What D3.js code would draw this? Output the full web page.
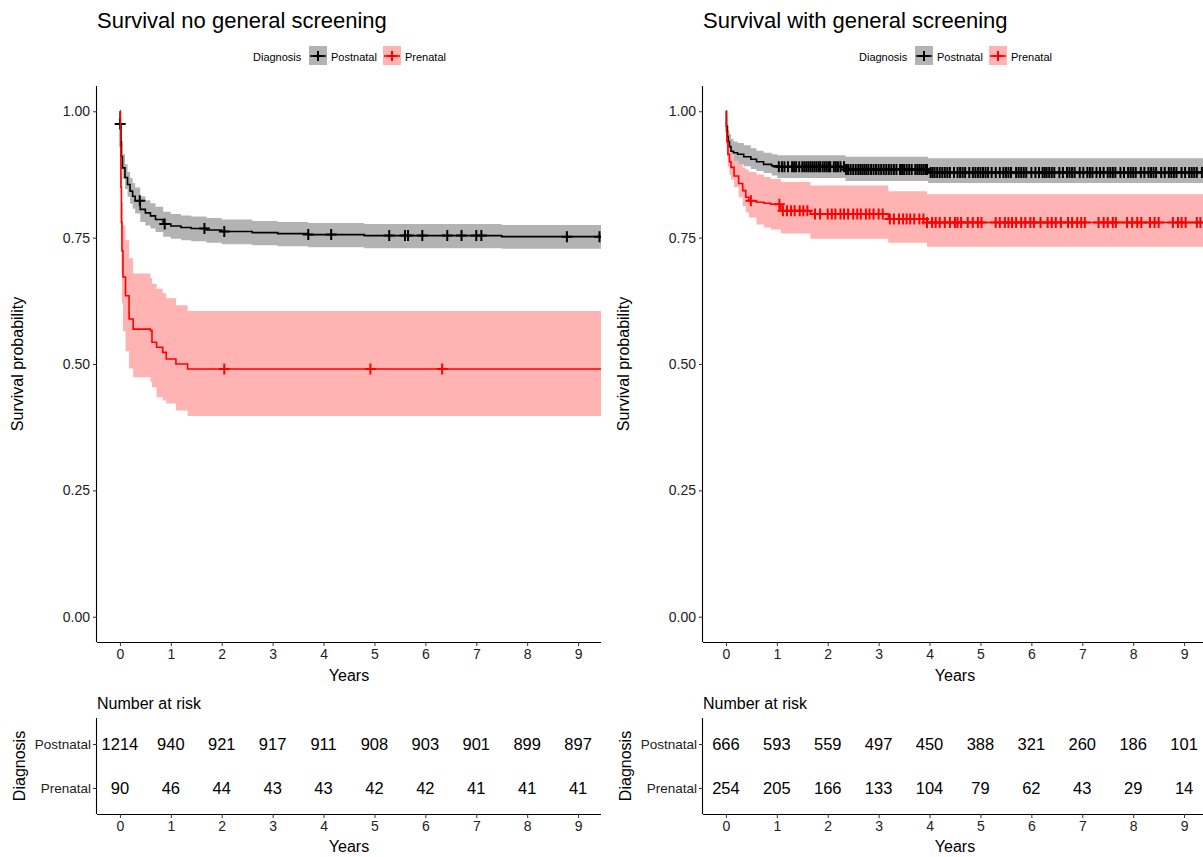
<!DOCTYPE html>
<html>
<head>
<meta charset="utf-8">
<script src="https://cdn.jsdelivr.net/npm/d3@7"></script>
<style>
  body { margin: 0; background: #fff; }
  svg { display: block; font-family: "Liberation Sans", Arial, sans-serif; }
</style>
</head>
<body>
<div id="chart"></div>
<script>
const W = 1203, H = 857;
const groups = ["Postnatal", "Prenatal"];
const years = [0, 1, 2, 3, 4, 5, 6, 7, 8, 9];
const yTicks = [0, 0.25, 0.5, 0.75, 1];

// left: no general screening
const leftPostTimes = [0, 0.005, 0.02, 0.03, 0.05, 0.1, 0.15, 0.2, 0.25, 0.3, 0.4, 0.5, 0.6, 0.7, 0.85, 1.0, 1.2, 1.4, 1.7, 2.0, 2.6, 3.1, 3.7, 4.8, 7.5, 9.45];
const leftPostSurv  = [1, 0.975, 0.94, 0.91, 0.888, 0.869, 0.855, 0.842, 0.832, 0.823, 0.806, 0.799, 0.793, 0.786, 0.777, 0.773, 0.770, 0.768, 0.765, 0.762, 0.760, 0.758, 0.756, 0.754, 0.752, 0.752];
const leftPostUpper = [1, 1, 0.965, 0.94, 0.915, 0.895, 0.88, 0.868, 0.858, 0.849, 0.832, 0.824, 0.818, 0.811, 0.801, 0.797, 0.794, 0.792, 0.789, 0.786, 0.783, 0.781, 0.779, 0.777, 0.775, 0.775];
const leftPostLower = [1, 0.966, 0.922, 0.89, 0.866, 0.846, 0.831, 0.817, 0.807, 0.798, 0.781, 0.774, 0.768, 0.761, 0.752, 0.748, 0.745, 0.743, 0.740, 0.737, 0.735, 0.733, 0.731, 0.729, 0.728, 0.728];
const leftPreTimes = [0, 0.01, 0.02, 0.03, 0.04, 0.06, 0.11, 0.18, 0.26, 0.6, 0.63, 0.72, 0.84, 0.91, 1.1, 1.33, 9.45];
const leftPreSurv  = [1, 0.93, 0.85, 0.78, 0.724, 0.672, 0.635, 0.589, 0.569, 0.566, 0.543, 0.533, 0.523, 0.51, 0.5, 0.49, 0.49];
const leftPreUpper = [1, 0.98, 0.93, 0.87, 0.82, 0.774, 0.745, 0.709, 0.679, 0.67, 0.659, 0.649, 0.64, 0.63, 0.616, 0.605, 0.605];
const leftPreLower = [1, 0.86, 0.76, 0.68, 0.62, 0.565, 0.525, 0.491, 0.474, 0.465, 0.454, 0.434, 0.428, 0.422, 0.408, 0.397, 0.397];
const leftPostCensor = [0.005, 0.39, 0.88, 1.66, 2.05, 3.7, 4.15, 5.29, 5.6, 5.66, 5.94, 6.43, 6.71, 7.0, 7.1, 8.78, 9.42];
const leftPreCensor = [2.05, 4.92, 6.33];
const leftRiskPost = [1214, 940, 921, 917, 911, 908, 903, 901, 899, 897];
const leftRiskPre = [90, 46, 44, 43, 43, 42, 42, 41, 41, 41];

// right: with general screening
const rightPostTimes = [0, 0.01, 0.03, 0.045, 0.07, 0.1, 0.15, 0.23, 0.35, 0.49, 0.6, 0.74, 0.9, 1.01, 2.35, 3.97, 9.45];
const rightPostSurv  = [1, 0.97, 0.95, 0.94, 0.93, 0.921, 0.918, 0.915, 0.91, 0.905, 0.9, 0.895, 0.892, 0.89, 0.885, 0.879, 0.879];
const rightPostUpper = [1, 0.99, 0.975, 0.962, 0.955, 0.945, 0.94, 0.937, 0.933, 0.927, 0.922, 0.918, 0.915, 0.913, 0.91, 0.907, 0.907];
const rightPostLower = [1, 0.95, 0.925, 0.915, 0.905, 0.9, 0.898, 0.895, 0.891, 0.886, 0.882, 0.878, 0.873, 0.868, 0.862, 0.858, 0.858];
const rightPreTimes = [0, 0.01, 0.02, 0.04, 0.07, 0.1, 0.16, 0.25, 0.33, 0.39, 0.45, 0.6, 0.75, 0.88, 1.08, 1.66, 3.19, 3.95, 9.45];
const rightPreSurv  = [1, 0.96, 0.94, 0.915, 0.9, 0.889, 0.872, 0.857, 0.843, 0.83, 0.823, 0.82, 0.818, 0.816, 0.803, 0.797, 0.787, 0.78, 0.78];
const rightPreUpper = [1, 0.99, 0.97, 0.935, 0.925, 0.915, 0.902, 0.895, 0.889, 0.885, 0.88, 0.875, 0.87, 0.866, 0.86, 0.853, 0.842, 0.836, 0.836];
const rightPreLower = [1, 0.93, 0.91, 0.89, 0.875, 0.865, 0.85, 0.83, 0.812, 0.8, 0.79, 0.776, 0.77, 0.766, 0.758, 0.748, 0.74, 0.732, 0.732];
const rightPostCensor = [1.04, 1.1, 1.15, 1.22, 1.3, 1.34, 1.38, 1.44, 1.5, 1.54, 1.58, 1.62, 1.66, 1.7, 1.74, 1.78, 1.82, 1.85, 1.9, 1.94, 1.98, 2.02, 2.05, 2.12, 2.16, 2.2, 2.25, 2.32, 2.36, 2.4, 2.45, 2.5, 2.55, 2.6, 2.64, 2.68, 2.72, 2.76, 2.8, 2.85, 2.9, 2.95, 3.0, 3.05, 3.1, 3.15, 3.2, 3.25, 3.3, 3.35, 3.42, 3.46, 3.5, 3.55, 3.6, 3.65, 3.72, 3.76, 3.8, 3.84, 3.88, 3.92, 3.95, 4.02, 4.06, 4.1, 4.15, 4.2, 4.25, 4.3, 4.35, 4.4, 4.48, 4.55, 4.6, 4.65, 4.7, 4.78, 4.85, 4.9, 4.95, 5.0, 5.05, 5.1, 5.15, 5.22, 5.3, 5.38, 5.45, 5.5, 5.55, 5.6, 5.7, 5.75, 5.8, 5.85, 5.9, 6.0, 6.08, 6.15, 6.22, 6.26, 6.3, 6.35, 6.4, 6.45, 6.55, 6.62, 6.7, 6.75, 6.8, 6.85, 6.95, 7.02, 7.1, 7.15, 7.2, 7.28, 7.35, 7.42, 7.5, 7.55, 7.6, 7.65, 7.75, 7.82, 7.9, 7.95, 8.0, 8.05, 8.15, 8.22, 8.3, 8.35, 8.4, 8.45, 8.55, 8.62, 8.7, 8.75, 8.8, 8.85, 8.95, 9.02, 9.1, 9.15, 9.2, 9.25, 9.35, 9.42];
const rightPreCensor = [0.49, 1.05, 1.12, 1.2, 1.28, 1.35, 1.45, 1.52, 1.6, 1.75, 1.85, 2.0, 2.08, 2.15, 2.25, 2.32, 2.4, 2.5, 2.58, 2.65, 2.75, 2.82, 2.9, 3.0, 3.08, 3.22, 3.3, 3.4, 3.48, 3.55, 3.62, 3.7, 3.8, 3.88, 3.95, 4.05, 4.12, 4.2, 4.3, 4.4, 4.5, 4.55, 4.62, 4.75, 4.85, 4.95, 5.02, 5.3, 5.38, 5.48, 5.55, 5.62, 5.7, 5.8, 5.88, 5.98, 6.05, 6.18, 6.32, 6.4, 6.48, 6.58, 6.72, 6.8, 6.9, 6.98, 7.05, 7.32, 7.42, 7.5, 7.6, 7.66, 7.88, 7.98, 8.08, 8.16, 8.33, 8.42, 8.5, 8.78, 8.88, 8.95, 9.03, 9.25, 9.32];
const rightRiskPost = [666, 593, 559, 497, 450, 388, 321, 260, 186, 101];
const rightRiskPre = [254, 205, 166, 133, 104, 79, 62, 43, 29, 14];

const colors = { Postnatal: "#000000", Prenatal: "#ff0000" };
const fills = { Postnatal: "#b3b3b3", Prenatal: "#ffb3b3" };

const svg = d3.select("#chart").append("svg")
  .attr("width", W).attr("height", H);

function zip(t, s, u, l) {
  return t.map((d, i) => ({ t: d, s: s[i], u: u[i], l: l[i] }));
}

function survAt(curve, t) {
  const i = d3.bisectRight(curve.map(d => d.t), t) - 1;
  return curve[Math.max(0, i)].s;
}

function styleAxis(a, size) {
  a.select(".domain").attr("stroke", "#000").attr("stroke-width", 1.1);
  a.selectAll(".tick line").attr("stroke", "#333");
  a.selectAll(".tick text").attr("font-size", size).attr("fill", "#222")
    .attr("font-family", "Liberation Sans, Arial, sans-serif");
}

function drawPanel(x0, title, curves, censors, risk) {
  const plotW = 504;
  const x = d3.scaleLinear().domain([-0.45, 9.45]).range([x0, x0 + plotW]);
  const y = d3.scaleLinear().domain([-0.05, 1.05]).range([642, 86]);
  const g = svg.append("g");

  g.append("text").attr("x", x0).attr("y", 28)
    .attr("font-size", 22).attr("fill", "#000").text(title);

  // legend
  const lg = g.append("g").attr("font-size", 11).attr("fill", "#000");
  lg.append("text").attr("x", x0 + 156).attr("y", 61).text("Diagnosis");
  const keyX = [x0 + 212, x0 + 286];
  groups.forEach((k, i) => {
    const kx = keyX[i];
    lg.append("rect").attr("x", kx).attr("y", 46).attr("width", 18).attr("height", 19)
      .attr("fill", fills[k]);
    lg.append("line").attr("x1", kx + 1).attr("x2", kx + 17).attr("y1", 56).attr("y2", 56)
      .attr("stroke", colors[k]).attr("stroke-width", 1.6);
    lg.append("path").attr("d", `M${kx + 4},56h10M${kx + 9},51v10`)
      .attr("stroke", colors[k]).attr("stroke-width", 2);
    lg.append("text").attr("x", kx + 22).attr("y", 61).text(k);
  });

  // clip
  const cid = "clip" + x0;
  svg.append("clipPath").attr("id", cid).append("rect")
    .attr("x", x0).attr("y", 80).attr("width", plotW).attr("height", 562);
  const plot = g.append("g").attr("clip-path", `url(#${cid})`);

  const area = d3.area().curve(d3.curveStepAfter)
    .x(d => x(d.t)).y0(d => y(d.l)).y1(d => y(d.u));
  const line = d3.line().curve(d3.curveStepAfter)
    .x(d => x(d.t)).y(d => y(d.s));

  groups.forEach(k => {
    plot.append("path").datum(curves[k]).attr("d", area).attr("fill", fills[k]);
  });
  groups.forEach(k => {
    plot.append("path").datum(curves[k]).attr("d", line)
      .attr("fill", "none").attr("stroke", colors[k]).attr("stroke-width", 1.6);
    plot.append("g").selectAll("path").data(censors[k]).join("path")
      .attr("d", t => {
        const cx = x(t), cy = y(survAt(curves[k], t));
        return `M${cx - 5.5},${cy}h11M${cx},${cy - 5.5}v11`;
      })
      .attr("stroke", colors[k]).attr("stroke-width", 2);
  });

  // axes
  const xAxis = g.append("g").attr("transform", "translate(0,642)")
    .call(d3.axisBottom(x).tickValues(years).tickSize(4).tickPadding(3).tickFormat(d3.format("d")));
  const yAxis = g.append("g").attr("transform", `translate(${x0},0)`)
    .call(d3.axisLeft(y).tickValues(yTicks).tickSize(4).tickPadding(3).tickFormat(d3.format(".2f")));
  styleAxis(xAxis, 14);
  styleAxis(yAxis, 14);
  xAxis.select(".domain").attr("d", `M${x0},0.5H${x0 + plotW}`);
  yAxis.select(".domain").attr("d", `M-0.5,86V642`);

  g.append("text").attr("x", x0 + plotW / 2).attr("y", 681).attr("text-anchor", "middle")
    .attr("font-size", 16).text("Years");
  g.append("text").attr("transform", `translate(${x0 - 74},364) rotate(-90)`)
    .attr("text-anchor", "middle").attr("font-size", 16).text("Survival probability");

  // risk table
  g.append("text").attr("x", x0).attr("y", 709).attr("font-size", 16).text("Number at risk");
  const ry = d3.scalePoint().domain(groups).range([744, 788]);
  const tx = g.append("g").attr("transform", "translate(0,814)")
    .call(d3.axisBottom(x).tickValues(years).tickSize(4).tickPadding(3).tickFormat(d3.format("d")));
  const ty = g.append("g").attr("transform", `translate(${x0},0)`)
    .call(d3.axisLeft(ry).tickSize(4).tickPadding(2));
  styleAxis(tx, 14);
  styleAxis(ty, 13.5);
  tx.select(".domain").attr("d", `M${x0},0.5H${x0 + plotW}`);
  ty.select(".domain").attr("d", `M-0.5,718V814`);

  groups.forEach(k => {
    g.append("g").selectAll("text").data(risk[k]).join("text")
      .attr("x", (d, i) => x(years[i])).attr("y", ry(k)).attr("dy", "0.35em")
      .attr("text-anchor", "middle").attr("font-size", 16.5).attr("fill", "#000")
      .text(d => d);
  });
  g.append("text").attr("x", x0 + plotW / 2).attr("y", 852).attr("text-anchor", "middle")
    .attr("font-size", 16).text("Years");
  g.append("text").attr("transform", `translate(${x0 - 72},766) rotate(-90)`)
    .attr("text-anchor", "middle").attr("font-size", 16).text("Diagnosis");
}

drawPanel(97, "Survival no general screening",
  { Postnatal: zip(leftPostTimes, leftPostSurv, leftPostUpper, leftPostLower),
    Prenatal: zip(leftPreTimes, leftPreSurv, leftPreUpper, leftPreLower) },
  { Postnatal: leftPostCensor, Prenatal: leftPreCensor },
  { Postnatal: leftRiskPost, Prenatal: leftRiskPre });

drawPanel(703, "Survival with general screening",
  { Postnatal: zip(rightPostTimes, rightPostSurv, rightPostUpper, rightPostLower),
    Prenatal: zip(rightPreTimes, rightPreSurv, rightPreUpper, rightPreLower) },
  { Postnatal: rightPostCensor, Prenatal: rightPreCensor },
  { Postnatal: rightRiskPost, Prenatal: rightRiskPre });
</script>
</body>
</html>
